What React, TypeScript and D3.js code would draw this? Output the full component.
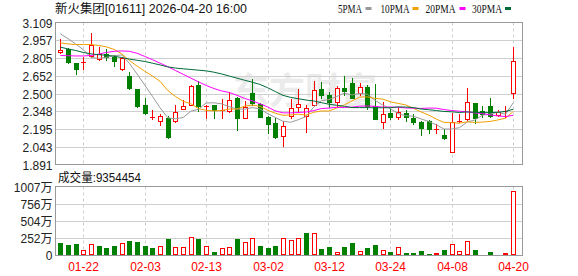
import React from 'react';
import * as d3 from 'd3';

// ---------- data ----------
const DATES = [
  '01-19','01-20','01-21','01-22','01-23','01-26','01-27','01-28','01-29','01-30',
  '02-02','02-03','02-04','02-05','02-06','02-09','02-10','02-11','02-12','02-13',
  '02-16','02-20','02-23','02-24','02-25','02-26','02-27','03-02','03-03','03-04',
  '03-05','03-06','03-09','03-10','03-11','03-12','03-13','03-16','03-17','03-18',
  '03-19','03-20','03-23','03-24','03-25','03-26','03-27','03-30','03-31','04-01',
  '04-02','04-08','04-09','04-10','04-13','04-14','04-15','04-16','04-17','04-20',
];
const OPEN = [
  2.852,2.878,2.761,2.765,2.818,2.792,2.841,2.815,2.710,2.650,
  2.536,2.400,2.300,2.264,2.291,2.268,2.366,2.400,2.572,2.392,
  2.400,2.352,2.350,2.461,2.294,2.505,2.410,2.300,2.250,2.136,
  2.308,2.382,2.310,2.404,2.536,2.488,2.426,2.550,2.588,2.508,
  2.553,2.390,2.252,2.333,2.300,2.333,2.291,2.257,2.265,2.195,
  2.144,1.998,2.263,2.279,2.418,2.348,2.393,2.313,2.343,2.508,
];
const HIGH = [
  2.968,2.889,2.761,2.816,3.019,2.903,2.883,2.826,2.812,2.681,
  2.540,2.460,2.360,2.327,2.305,2.400,2.444,2.570,2.605,2.399,
  2.400,2.455,2.513,2.470,2.436,2.625,2.418,2.310,2.287,2.260,
  2.450,2.541,2.404,2.610,2.600,2.513,2.565,2.650,2.630,2.591,
  2.570,2.580,2.430,2.364,2.376,2.358,2.327,2.260,2.276,2.240,
  2.198,2.336,2.322,2.546,2.420,2.392,2.460,2.362,2.390,2.899,
];
const LOW = [
  2.850,2.761,2.670,2.714,2.812,2.784,2.784,2.740,2.704,2.541,
  2.385,2.327,2.285,2.233,2.120,2.257,2.364,2.398,2.346,2.286,
  2.286,2.286,2.344,2.190,2.290,2.398,2.295,2.163,2.120,2.046,
  2.290,2.342,2.168,2.400,2.460,2.386,2.386,2.488,2.459,2.490,
  2.368,2.277,2.208,2.285,2.285,2.260,2.242,2.140,2.162,2.162,
  2.108,1.996,2.256,2.276,2.243,2.299,2.295,2.310,2.299,2.463,
];
const CLOSE = [
  2.872,2.769,2.710,2.770,2.918,2.840,2.812,2.781,2.803,2.548,
  2.391,2.334,2.302,2.307,2.129,2.340,2.396,2.568,2.394,2.396,
  2.355,2.356,2.444,2.293,2.388,2.418,2.300,2.239,2.129,2.217,
  2.376,2.410,2.374,2.534,2.488,2.428,2.543,2.522,2.460,2.553,
  2.395,2.278,2.322,2.300,2.339,2.297,2.255,2.206,2.197,2.199,
  2.120,2.254,2.267,2.431,2.290,2.325,2.308,2.342,2.347,2.776,
];
const PREV_CLOSE = 2.9;
// volume in 万股
const VOLUME = [
  182,153,168,76,163,139,109,139,178,212,
  197,139,109,134,241,124,124,265,241,139,
  51,105,124,241,192,251,139,109,139,251,
  226,251,328,324,95,124,47,124,182,61,
  109,153,76,51,124,36,36,66,22,36,
  80,163,61,207,80,22,51,22,36,935.4454,
];
const MA5 = [
  3.012,2.970,2.925,2.875,2.808,2.802,2.810,2.824,2.831,2.758,
  2.667,2.572,2.476,2.377,2.292,2.283,2.294,2.348,2.365,2.419,
  2.420,2.412,2.387,2.367,2.365,2.379,2.368,2.328,2.295,2.262,
  2.253,2.275,2.302,2.383,2.438,2.448,2.474,2.503,2.488,2.501,
  2.494,2.441,2.401,2.370,2.328,2.309,2.305,2.282,2.260,2.231,
  2.195,2.195,2.207,2.255,2.273,2.314,2.324,2.339,2.322,2.419,
];
const MA10 = [
  2.934,2.925,2.920,2.920,2.920,2.912,2.900,2.878,2.840,2.783,
  2.735,2.691,2.650,2.604,2.525,2.475,2.433,2.412,2.371,2.355,
  2.351,2.353,2.367,2.366,2.392,2.400,2.390,2.357,2.331,2.313,
  2.316,2.322,2.315,2.339,2.350,2.350,2.375,2.402,2.436,2.469,
  2.471,2.458,2.452,2.429,2.415,2.402,2.373,2.342,2.315,2.280,
  2.252,2.250,2.245,2.257,2.252,2.255,2.260,2.273,2.288,2.346,
];
const MA20 = [
  2.826,2.824,2.822,2.822,2.826,2.838,2.852,2.862,2.865,2.862,
  2.845,2.818,2.790,2.760,2.730,2.697,2.665,2.632,2.600,2.569,
  2.543,2.522,2.509,2.485,2.458,2.437,2.412,2.385,2.351,2.334,
  2.334,2.337,2.341,2.353,2.371,2.375,2.382,2.380,2.383,2.391,
  2.393,2.390,2.383,2.384,2.382,2.376,2.374,2.372,2.375,2.374,
  2.362,2.354,2.348,2.343,2.333,2.328,2.316,2.308,2.302,2.313,
];
const MA30 = [
  2.898,2.882,2.869,2.852,2.840,2.833,2.828,2.820,2.808,2.795,
  2.785,2.775,2.760,2.745,2.728,2.718,2.712,2.706,2.700,2.694,
  2.683,2.668,2.650,2.632,2.614,2.597,2.578,2.550,2.517,2.484,
  2.467,2.455,2.444,2.436,2.422,2.408,2.399,2.391,2.379,2.379,
  2.379,2.377,2.378,2.378,2.385,2.384,2.379,2.367,2.361,2.354,
  2.346,2.343,2.337,2.342,2.339,2.336,2.336,2.339,2.346,2.365,
];
const PRICE_TICKS = [3.109, 2.957, 2.805, 2.652, 2.5, 2.348, 2.195, 2.043, 1.891];
const PRICE_TICK_LABELS = ['3.109','2.957','2.805','2.652','2.500','2.348','2.195','2.043','1.891'];
const VOL_TICKS = [1007, 755.25, 503.5, 251.75, 0];
const VOL_TICK_LABELS = ['1007万','756万','504万','252万','0'];
const X_LABELS = ['01-22','02-03','02-13','03-02','03-12','03-24','04-08','04-20'];
const LEGEND_NAMES = ['5PMA','10PMA','20PMA','30PMA'];
const TITLE = '新火集团[01611] 2026-04-20 16:00';
const VOL_TITLE = '成交量:9354454';
const WATERMARK = '东方财富';

// ---------- styles ----------
const RED = '#ff0000';
const GREEN = '#008000';
const MA_COLORS = ['#999999', '#f0a000', '#ff00ff', '#006a38'];
const FONT = "'Liberation Sans', 'Noto Sans CJK SC', sans-serif";
const GRID = '#cfcfcf';
const FRAME = '#999999';

export default function App() {
  const W = 578, H = 276;
  const L = 55.5, R = 522.5, T = 22.5, B = 164.5, VT = 186.5, VB = 255;

  const x = d3.scaleBand<string>().domain(DATES).range([56.5, 517]);
  const cx = (i: number) => (x(DATES[i]) as number) + x.bandwidth() / 2;
  const y = d3.scaleLinear().domain([1.891, 3.109]).range([B, T]);
  const yv = d3.scaleLinear().domain([0, 1007]).range([VB, VT]);

  const line = d3.line<number>().x((_, i) => cx(i)).y((d) => y(d));
  const mas = [MA5, MA10, MA20, MA30];

  const legendPos = [
    { tx: 338, tw: 24, mx: 365.5 },
    { tx: 380.5, tw: 29, mx: 412.5 },
    { tx: 425.5, tw: 30, mx: 459.5 },
    { tx: 472, tw: 30, mx: 505 },
  ];

  return (
    <svg width={W} height={H} style={{ position: 'absolute', left: 0, top: 0, background: '#fff' }}
      fontFamily={FONT}>
      <rect x={0} y={0} width={W} height={H} fill="#fff" />
      <defs>
        <clipPath id="mainClip"><rect x={L} y={T} width={R - L} height={B - T} /></clipPath>
      </defs>

      {/* title */}
      <text x={55} y={12.5} fontSize={12} fill="#111" textLength={192} lengthAdjust="spacingAndGlyphs">{TITLE}</text>

      {/* legend */}
      {LEGEND_NAMES.map((n, k) => (
        <g key={n}>
          <text x={legendPos[k].tx} y={12.5} fontSize={12} fill="#111" fontFamily="'Liberation Serif', serif"
            textLength={legendPos[k].tw} lengthAdjust="spacingAndGlyphs">{n}</text>
          <rect x={legendPos[k].mx} y={7} width={6} height={3} fill={MA_COLORS[k]} />
        </g>
      ))}

      {/* watermark */}
      <text x={305} y={104} fontSize={36} fontWeight="bold" fill="#ebebeb" textAnchor="middle"
        fontFamily="'Noto Sans CJK SC', sans-serif">{WATERMARK}</text>

      {/* price grid */}
      {PRICE_TICKS.map((t, k) => {
        const yy = Math.round(y(t)) + 0.5;
        return (
          <g key={'pg' + k}>
            {k > 0 && k < PRICE_TICKS.length - 1 && (
              <line x1={L} x2={R} y1={yy} y2={yy} stroke={GRID} strokeWidth={1} />
            )}
            <text x={52.5} y={yy} fontSize={12} fill="#222" textAnchor="end" dominantBaseline="central">
              {PRICE_TICK_LABELS[k]}
            </text>
          </g>
        );
      })}
      {/* volume grid */}
      {VOL_TICKS.map((t, k) => {
        const yy = Math.round(yv(t)) + 0.5;
        return (
          <g key={'vg' + k}>
            {k > 0 && k < VOL_TICKS.length - 1 && (
              <line x1={L} x2={R} y1={yy} y2={yy} stroke={GRID} strokeWidth={1} />
            )}
            <text x={52.5} y={yy} fontSize={12} fill="#222" textAnchor="end" dominantBaseline="central">
              {VOL_TICK_LABELS[k]}
            </text>
          </g>
        );
      })}

      {/* vertical dashed grid + x labels */}
      {X_LABELS.map((lab) => {
        const i = DATES.indexOf(lab);
        const xx = Math.round(cx(i)) + 0.5;
        return (
          <g key={'xl' + lab}>
            <line x1={xx} x2={xx} y1={T} y2={B} stroke={GRID} strokeDasharray="3,3" />
            <line x1={xx} x2={xx} y1={VT} y2={VB} stroke={GRID} strokeDasharray="3,3" />
            <text x={xx} y={271} fontSize={12} fill={RED} textAnchor="middle">{lab}</text>
          </g>
        );
      })}

      {/* candles */}
      <g shapeRendering="crispEdges">
        {DATES.map((d, i) => {
          const c = Math.round(cx(i));
          const o = OPEN[i], cl = CLOSE[i];
          const up = cl >= o;
          const col = up ? RED : GREEN;
          const top = Math.round(y(Math.max(o, cl)));
          const bot = Math.round(y(Math.min(o, cl)));
          const yh = Math.round(y(HIGH[i]));
          const yl = Math.round(y(LOW[i]));
          const els: any[] = [];
          els.push(<line key="w" x1={c + 0.5} x2={c + 0.5} y1={yh} y2={yl + 1} stroke={col} />);
          if (bot - top < 2) {
            els.push(<line key="b" x1={c - 2} x2={c + 3} y1={top + 0.5} y2={top + 0.5} stroke={col} />);
          } else if (up) {
            els.push(<rect key="b" x={c - 1.5} y={top + 0.5} width={4} height={bot - top} fill="#fff" stroke={col} />);
          } else {
            els.push(<rect key="b" x={c - 2} y={top} width={5} height={bot - top + 1} fill={col} />);
          }
          return <g key={d}>{els}</g>;
        })}
      </g>

      {/* moving averages */}
      <g clipPath="url(#mainClip)" fill="none">
        {mas.map((m, k) => (
          <path key={'ma' + k} d={line(m) || ''} stroke={MA_COLORS[k]} strokeWidth={1} />
        ))}
      </g>

      {/* volume bars */}
      <g shapeRendering="crispEdges">
        {DATES.map((d, i) => {
          const c = Math.round(cx(i));
          const prev = i === 0 ? PREV_CLOSE : CLOSE[i - 1];
          const up = CLOSE[i] >= prev;
          const top = Math.round(yv(VOLUME[i]));
          const h = VB - top;
          return up ? (
            <rect key={'v' + d} x={c - 1.5} y={top + 0.5} width={4} height={Math.max(h - 1, 0)} fill="#fff" stroke={RED} />
          ) : (
            <rect key={'v' + d} x={c - 2} y={top} width={5} height={h} fill={GREEN} />
          );
        })}
      </g>

      {/* frames */}
      <rect x={L} y={T} width={R - L} height={B - T} fill="none" stroke={FRAME} />
      <rect x={L} y={VT} width={R - L} height={VB + 0.5 - VT} fill="none" stroke={FRAME} />

      {/* volume title */}
      <text x={58} y={181.5} fontSize={12} fill="#111" textLength={83} lengthAdjust="spacingAndGlyphs">{VOL_TITLE}</text>
    </svg>
  );
}
